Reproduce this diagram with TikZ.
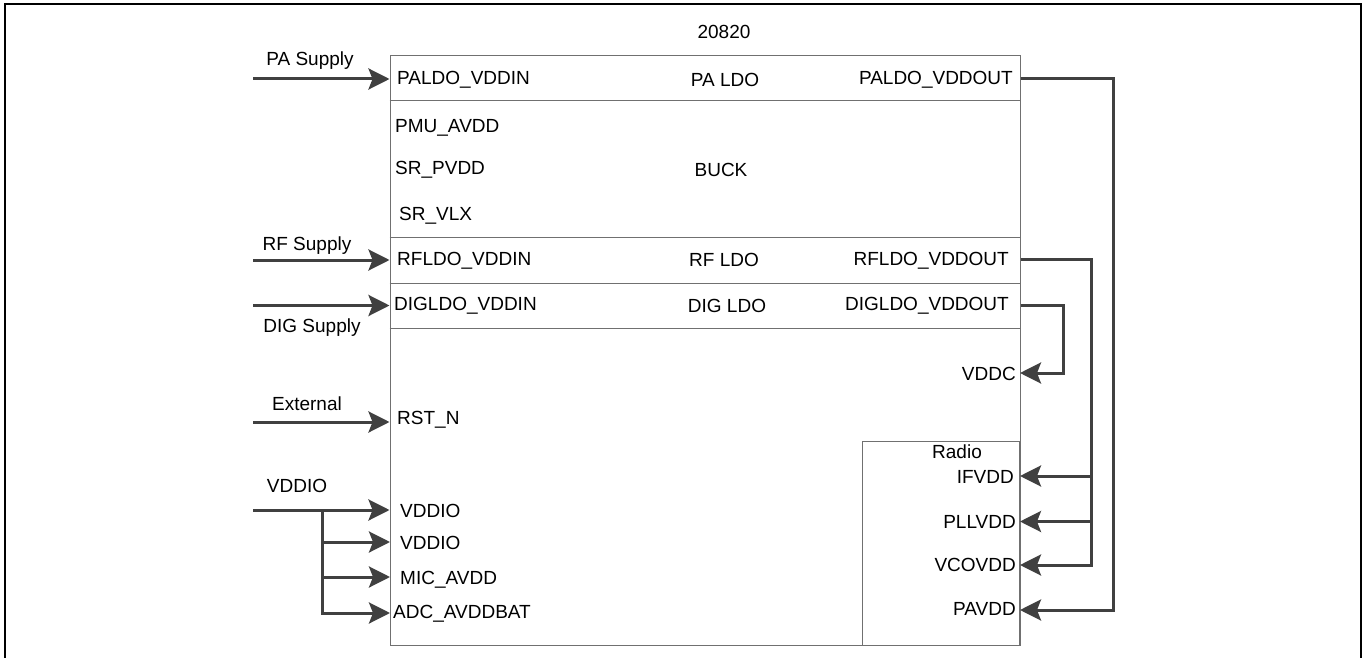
\documentclass[tikz,border=0pt]{standalone}
\usepackage{fontspec}
\setmainfont{Liberation Sans}
\usetikzlibrary{arrows.meta}

\definecolor{wiregray}{HTML}{404040}
\definecolor{boxgray}{HTML}{707070}

\begin{document}
\begin{tikzpicture}[x=1pt,y=-1pt,>={Stealth[length=21pt,width=21pt,inset=4pt]},
    every node/.style={font=\fontsize{19}{22}\selectfont},
    pin/.style={inner sep=0pt},
    box/.style={draw=boxgray,line width=1pt,inner sep=0pt},
    wire/.style={draw=wiregray,line width=3pt}]
    \useasboundingbox (0,0) rectangle (1366,658);
    \draw[line width=2pt] (5,658) -- (5,4) -- (1361,4) -- (1361,658);

    % chip and its blocks
    \node[box,minimum width=630pt,minimum height=589pt] (chip) at (705,350.5) {};
    \node[box,minimum width=157pt,minimum height=204pt,anchor=north east] (radio) at (1020,441) {};
    \foreach \y in {101,237,283,328}
        \draw[draw=boxgray,line width=1pt] (chip.west |- 0,\y) -- (chip.east |- 0,\y);
    \node[anchor=base] (title) at (724,39) {20820};
    \node[anchor=base] (paldo) at (725,87) {PA LDO};
    \node[anchor=base] (buck) at (721,177) {BUCK};
    \node[anchor=base] (rfldo) at (724,266) {RF LDO};
    \node[anchor=base] (digldo) at (727,312) {DIG LDO};
    \node[anchor=base] (radioLbl) at (957,458) {Radio};

    % pins on the left
    \node[pin,anchor=base west] (paldoIn) at (397,85) {PALDO\_VDDIN};
    \node[pin,anchor=base west] (pmuAvdd) at (395,133) {PMU\_AVDD};
    \node[pin,anchor=base west] (srPvdd) at (395,175) {SR\_PVDD};
    \node[pin,anchor=base west] (srVlx) at (399,220) {SR\_VLX};
    \node[pin,anchor=base west] (rfldoIn) at (397,265) {RFLDO\_VDDIN};
    \node[pin,anchor=base west] (digldoIn) at (394,310) {DIGLDO\_VDDIN};
    \node[pin,anchor=base west] (rstN) at (397,424) {RST\_N};
    \node[pin,anchor=base west] (vddioA) at (400,517.5) {VDDIO};
    \node[pin,anchor=base west] (vddioB) at (400,549) {VDDIO};
    \node[pin,anchor=base west] (micAvdd) at (400,584) {MIC\_AVDD};
    \node[pin,anchor=base west] (adcAvdd) at (393,618) {ADC\_AVDDBAT};

    % pins on the right
    \node[pin,anchor=base east] (paldoOut) at (1013,85) {PALDO\_VDDOUT};
    \node[pin,anchor=base east] (rfldoOut) at (1009,265) {RFLDO\_VDDOUT};
    \node[pin,anchor=base east] (digldoOut) at (1009,310) {DIGLDO\_VDDOUT};
    \node[pin,anchor=base east] (vddc) at (1016,380) {VDDC};
    \node[pin,anchor=base east] (ifvdd) at (1014,483) {IFVDD};
    \node[pin,anchor=base east] (pllvdd) at (1016,528.5) {PLLVDD};
    \node[pin,anchor=base east] (vcovdd) at (1016,571) {VCOVDD};
    \node[pin,anchor=base east] (pavdd) at (1016,615) {PAVDD};

    % supplies coming in
    \coordinate (paSrc) at (253,79);
    \coordinate (rfSrc) at (253,260);
    \coordinate (digSrc) at (253,305.5);
    \coordinate (extSrc) at (253,422);
    \coordinate (ioSrc) at (253,510);
    \coordinate (ioBus) at (322,510);
    \coordinate (io2Pt) at (390,542);
    \coordinate (micPt) at (390,577);
    \coordinate (adcPt) at (390,613);
    \node[anchor=base] (paLbl) at (310,66) {PA Supply};
    \node[anchor=base] (rfLbl) at (307,250) {RF Supply};
    \node[anchor=base] (digLbl) at (312,332) {DIG Supply};
    \node[anchor=base] (extLbl) at (307,410) {External};
    \node[anchor=base] (ioLbl) at (297,492) {VDDIO};

    \draw[wire,->] (paSrc) -- (paSrc -| chip.west);
    \draw[wire,->] (rfSrc) -- (rfSrc -| chip.west);
    \draw[wire,->] (digSrc) -- (digSrc -| chip.west);
    \draw[wire,->] (extSrc) -- (extSrc -| chip.west);
    \draw[wire,->] (ioSrc) -- (ioSrc -| chip.west);
    \draw[wire,->] (ioBus) |- (adcPt);
    \draw[wire,->] (ioBus |- io2Pt) -- (io2Pt);
    \draw[wire,->] (ioBus |- micPt) -- (micPt);

    % LDO outputs going back in
    \coordinate (paBus) at (1113,79);
    \coordinate (rfBus) at (1091,259);
    \coordinate (digBus) at (1063,305);
    \coordinate (vddcPt) at (1020,373);
    \coordinate (ifPt) at (1020,476);
    \coordinate (pllPt) at (1020,521.5);
    \coordinate (vcoPt) at (1020,565);
    \coordinate (paPt) at (1020,610);

    \draw[wire,->] (chip.east |- paBus) -- (paBus) |- (paPt);
    \draw[wire,->] (chip.east |- rfBus) -- (rfBus) |- (vcoPt);
    \draw[wire,->] (rfBus |- ifPt) -- (ifPt);
    \draw[wire,->] (rfBus |- pllPt) -- (pllPt);
    \draw[wire,->] (chip.east |- digBus) -- (digBus) |- (vddcPt);
\end{tikzpicture}
\end{document}
